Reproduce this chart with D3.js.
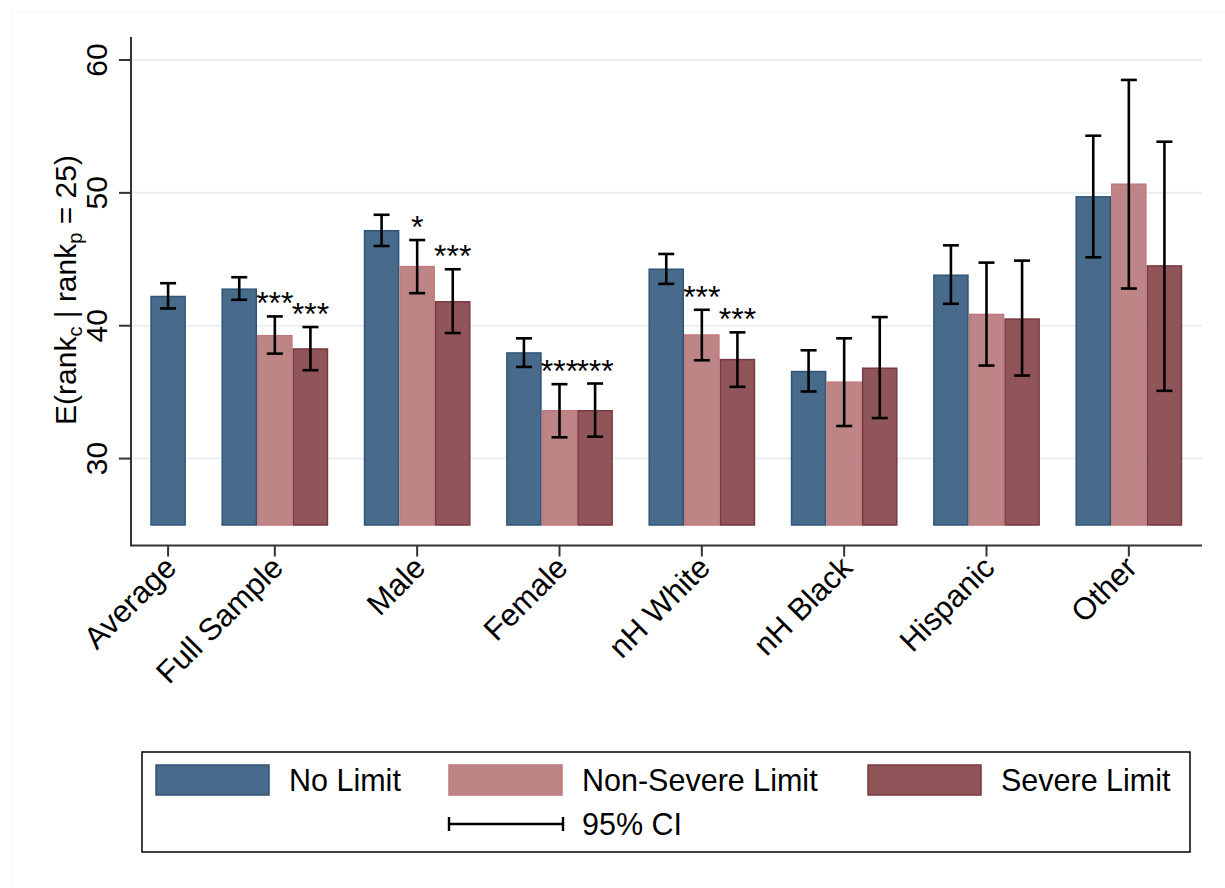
<!DOCTYPE html>
<html>
<head>
<meta charset="utf-8">
<script src="https://cdn.jsdelivr.net/npm/d3@7"></script>
<style>
  html, body { margin: 0; padding: 0; background: #ffffff; }
  svg { display: block; }
  text { font-family: "Liberation Sans", Arial, sans-serif; fill: #000; }
</style>
</head>
<body>
<svg id="chart" width="1225" height="888"></svg>
<script>
// Expected child rank for parents at the 25th percentile, by group and parental limitation
const categories = ["Average", "Full Sample", "Male", "Female", "nH White", "nH Black", "Hispanic", "Other"];

const noLimit     = [42.2, 42.75, 47.15, 37.95, 44.25, 36.55, 43.8, 49.7];
const noLimitLo   = [41.3, 41.95, 46.0, 36.9, 43.15, 35.05, 41.65, 45.15];
const noLimitHi   = [43.2, 43.65, 48.35, 39.05, 45.4, 38.15, 46.05, 54.3];

const nonSevere   = [null, 39.25, 44.45, 33.6, 39.3, 35.75, 40.85, 50.65];
const nonSevereLo = [null, 37.9, 42.45, 31.6, 37.4, 32.45, 37.0, 42.8];
const nonSevereHi = [null, 40.7, 46.45, 35.6, 41.2, 39.05, 44.75, 58.5];

const severe      = [null, 38.25, 41.8, 33.6, 37.45, 36.8, 40.5, 44.5];
const severeLo    = [null, 36.65, 39.45, 31.65, 35.4, 33.05, 36.25, 35.1];
const severeHi    = [null, 39.9, 44.25, 35.65, 39.5, 40.65, 44.9, 53.85];

// significance of difference from No Limit
const nonSevereStars = ["", "***", "*", "***", "***", "", "", ""];
const severeStars    = ["", "***", "***", "***", "***", "", "", ""];

const yTicks = [30, 40, 50, 60];
const seriesNames = ["No Limit", "Non-Severe Limit", "Severe Limit"];

const colors = {
  fill:   ["#486a8b", "#be8587", "#8f5558"],
  stroke: ["#2f5478", "#c0797e", "#7a3940"]
};

const svg = d3.select("#chart");

// faint graph-region outline
svg.append("rect")
  .attr("x", 12).attr("y", 12).attr("width", 1230).attr("height", 890)
  .attr("fill", "none").attr("stroke", "#f5f5f5").attr("stroke-width", 1);

const x = d3.scaleLinear().domain([0, 7.5]).range([132.5, 1200]);
const y = d3.scaleLinear().domain([25, 60]).range([525, 60]);
const baseY = 25;
const axisBottom = 545.5, axisTop = 37;
const axisLeft = 131;
const barW = x(0.25) - x(0);

// group tick positions and bar centres
const tickPos = i => (i === 0 ? 0.25 : i);
const barPos = (i, s) => (i === 0 ? 0.25 : i + (s - 1) * 0.25);

// gridlines
svg.append("g").selectAll("line").data(yTicks).join("line")
  .attr("x1", axisLeft).attr("x2", 1202)
  .attr("y1", d => y(d)).attr("y2", d => y(d))
  .attr("stroke", "#e8f0f2").attr("stroke-width", 2);

// bars
const series = [
  { v: noLimit, lo: noLimitLo, hi: noLimitHi, stars: null },
  { v: nonSevere, lo: nonSevereLo, hi: nonSevereHi, stars: nonSevereStars },
  { v: severe, lo: severeLo, hi: severeHi, stars: severeStars }
];

const bars = [];
series.forEach((s, si) => {
  s.v.forEach((val, i) => {
    if (val == null) return;
    bars.push({ si, i, val, lo: s.lo[i], hi: s.hi[i], star: s.stars ? s.stars[i] : "" });
  });
});

svg.append("g").selectAll("rect").data(bars).join("rect")
  .attr("x", d => x(barPos(d.i, d.si)) - barW / 2 + 0.75)
  .attr("width", barW - 1.5)
  .attr("y", d => y(d.val))
  .attr("height", d => y(baseY) - y(d.val))
  .attr("fill", d => colors.fill[d.si])
  .attr("stroke", d => colors.stroke[d.si])
  .attr("stroke-width", 1.5);

// 95% confidence intervals
const cap = 8;
const ci = svg.append("g").attr("stroke", "#000").attr("stroke-width", 2.6).attr("fill", "none");
bars.forEach(d => {
  const cx = x(barPos(d.i, d.si));
  ci.append("line").attr("x1", cx).attr("x2", cx).attr("y1", y(d.hi)).attr("y2", y(d.lo));
  ci.append("line").attr("x1", cx - cap).attr("x2", cx + cap).attr("y1", y(d.hi)).attr("y2", y(d.hi));
  ci.append("line").attr("x1", cx - cap).attr("x2", cx + cap).attr("y1", y(d.lo)).attr("y2", y(d.lo));
});

// significance stars
svg.append("g").selectAll("text").data(bars.filter(d => d.star)).join("text")
  .attr("x", d => x(barPos(d.i, d.si)))
  .attr("y", d => y(d.hi) - 2)
  .attr("text-anchor", "middle")
  .attr("font-size", 32)
  .text(d => d.star);

// axes
const axisColor = "#333";
svg.append("line").attr("x1", axisLeft).attr("x2", axisLeft)
  .attr("y1", axisTop).attr("y2", axisBottom + 1)
  .attr("stroke", axisColor).attr("stroke-width", 2);
svg.append("line").attr("x1", axisLeft).attr("x2", 1202)
  .attr("y1", axisBottom).attr("y2", axisBottom)
  .attr("stroke", axisColor).attr("stroke-width", 2);

// y ticks and labels
const yt = svg.append("g");
yTicks.forEach(t => {
  yt.append("line").attr("x1", axisLeft - 12).attr("x2", axisLeft)
    .attr("y1", y(t)).attr("y2", y(t)).attr("stroke", axisColor).attr("stroke-width", 2);
  yt.append("text")
    .attr("transform", `translate(107,${y(t)}) rotate(-90)`)
    .attr("text-anchor", "middle")
    .attr("font-size", 30)
    .text(t);
});

// x ticks and labels
const xt = svg.append("g");
categories.forEach((c, i) => {
  const px = x(tickPos(i));
  xt.append("line").attr("x1", px).attr("x2", px)
    .attr("y1", axisBottom).attr("y2", axisBottom + 11)
    .attr("stroke", axisColor).attr("stroke-width", 2);
  xt.append("text")
    .attr("transform", `translate(${px + 10},${axisBottom + 24}) rotate(-45)`)
    .attr("text-anchor", "end")
    .attr("font-size", 31)
    .text(c);
});

// y-axis title with subscripts
const yTitle = svg.append("text")
  .attr("transform", "translate(76,290) rotate(-90)")
  .attr("text-anchor", "middle")
  .attr("font-size", 30);
yTitle.append("tspan").text("E(rank");
yTitle.append("tspan").attr("font-size", 20).attr("dy", 6).text("c");
yTitle.append("tspan").attr("dy", -6).text(" | rank");
yTitle.append("tspan").attr("font-size", 20).attr("dy", 6).text("p");
yTitle.append("tspan").attr("dy", -6).text(" = 25)");

// legend
const lg = svg.append("g");
lg.append("rect").attr("x", 142).attr("y", 752).attr("width", 1048).attr("height", 100)
  .attr("fill", "#fff").attr("stroke", "#000").attr("stroke-width", 1.5);

const legendX = [156, 449, 868];
seriesNames.forEach((name, si) => {
  lg.append("rect").attr("x", legendX[si]).attr("y", 765).attr("width", 113).attr("height", 30)
    .attr("fill", colors.fill[si]).attr("stroke", colors.stroke[si]).attr("stroke-width", 1.5);
  lg.append("text").attr("x", legendX[si] + 133).attr("y", 791)
    .attr("font-size", 30.5).text(name);
});
lg.append("line").attr("x1", 449).attr("x2", 563).attr("y1", 824).attr("y2", 824)
  .attr("stroke", "#000").attr("stroke-width", 2.4);
[449, 563].forEach(px => {
  lg.append("line").attr("x1", px).attr("x2", px).attr("y1", 817).attr("y2", 831)
    .attr("stroke", "#000").attr("stroke-width", 2.4);
});
lg.append("text").attr("x", 582).attr("y", 835).attr("font-size", 30.5).text("95% CI");
</script>
</body>
</html>
